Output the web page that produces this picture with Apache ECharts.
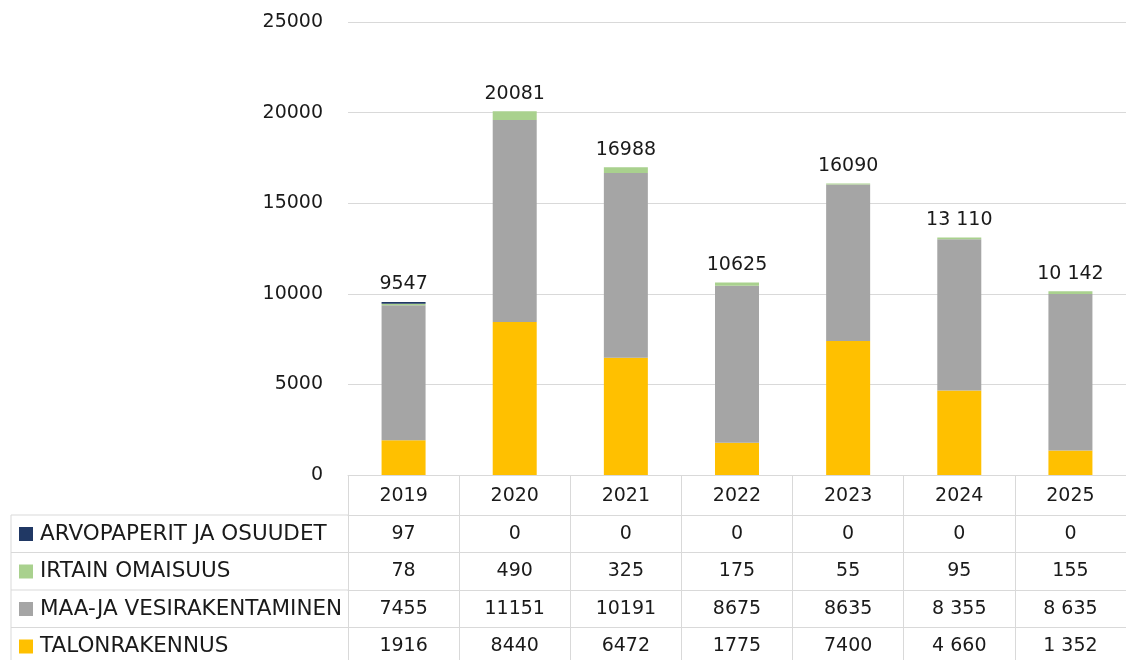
<!DOCTYPE html>
<html>
<head>
<meta charset="utf-8">
<script src="https://cdn.jsdelivr.net/npm/echarts@6/dist/echarts.min.js"></script>
<style>
html,body{margin:0;padding:0;background:#fff;}
#chart{width:1126px;height:660px;}
</style>
</head>
<body>
<div id="chart"></div>
<script>
// ---- data ----
const years = ['2019','2020','2021','2022','2023','2024','2025'];
const seriesNames = ['ARVOPAPERIT JA OSUUDET','IRTAIN OMAISUUS','MAA-JA VESIRAKENTAMINEN','TALONRAKENNUS'];
const arvopaperit = [97, 0, 0, 0, 0, 0, 0];
const irtain = [78, 490, 325, 175, 55, 95, 155];
const maaJaVesi = [7455, 11151, 10191, 8675, 8635, 8355, 8635];
const talonrakennus = [1916, 8440, 6472, 1775, 7400, 4660, 1352];
const totalLabels = ['9547','20081','16988','10625','16090','13 110','10 142'];
const spacedYears = ['2024','2025'];
const yTicks = {min: 0, max: 25000, interval: 5000};

// ---- styles ----
const colors = {
  'ARVOPAPERIT JA OSUUDET': '#203864',
  'IRTAIN OMAISUUS': '#A9D18E',
  'MAA-JA VESIRAKENTAMINEN': '#A5A5A5',
  'TALONRAKENNUS': '#FFC000'
};
const FONT = 'DejaVu Sans';
const FS = 19;
const NAME_FS = 21.5;
const TXT = '#1a1a1a';
const LINE = '#d9d9d9';
const gridLeft = 348, gridTop = 22, axisY = 475;
const headerH = 40, rowH = 37.5, labelColLeft = 11;

function fmt(v, i) {
  const s = String(v);
  if (spacedYears.indexOf(years[i]) >= 0) return s.replace(/\B(?=(\d{3})+(?!\d))/g, ' ');
  return s;
}

const tableRows = [
  {name: seriesNames[0], values: arvopaperit},
  {name: seriesNames[1], values: irtain},
  {name: seriesNames[2], values: maaJaVesi},
  {name: seriesNames[3], values: talonrakennus}
];

const xAxes = [{
  type: 'category', data: years, gridIndex: 0, position: 'bottom',
  axisLine: {show: true, lineStyle: {color: LINE, width: 1}},
  axisTick: {show: true, length: headerH, lineStyle: {color: LINE, width: 1}},
  axisLabel: {margin: 11, fontFamily: FONT, fontSize: FS, color: TXT, lineHeight: 20}
}];
tableRows.forEach((r, k) => {
  xAxes.push({
    type: 'category', data: years, gridIndex: 0, position: 'bottom',
    offset: headerH + rowH * k,
    axisLine: {show: true, lineStyle: {color: LINE, width: 1}},
    axisTick: {show: true, length: k === 3 ? 50 : rowH, lineStyle: {color: LINE, width: 1}},
    axisLabel: {margin: 9, fontFamily: FONT, fontSize: FS, color: TXT, lineHeight: 20,
      formatter: (val, i) => fmt(r.values[i], i)},
    name: '{sq| }{t|' + r.name + '}',
    nameLocation: 'start',
    nameGap: gridLeft - 19,
    nameTextStyle: {
      align: 'left', verticalAlign: 'top', padding: [8, 0, 0, 0],
      rich: {
        sq: {width: 14, height: 14, backgroundColor: colors[r.name], verticalAlign: 'middle'},
        t: {fontFamily: FONT, fontSize: NAME_FS, color: TXT, lineHeight: 22, padding: [0, 0, 0, 7], verticalAlign: 'middle'}
      }
    }
  });
});

// label-column frame lines
const graphics = [];
const colTop = axisY + headerH;
graphics.push({type: 'line', shape: {x1: labelColLeft, y1: colTop, x2: labelColLeft, y2: 700}, style: {stroke: LINE, lineWidth: 1}});
for (let k = 0; k < 4; k++) {
  const y = colTop + rowH * k;
  graphics.push({type: 'line', shape: {x1: labelColLeft, y1: y, x2: gridLeft, y2: y}, style: {stroke: LINE, lineWidth: 1}});
}

const stackOrder = [
  {name: seriesNames[3], data: talonrakennus},
  {name: seriesNames[2], data: maaJaVesi},
  {name: seriesNames[1], data: irtain},
  {name: seriesNames[0], data: arvopaperit}
];
const series = stackOrder.map(s => ({
  name: s.name, type: 'bar', stack: 'total', data: s.data, barWidth: 44,
  itemStyle: {color: colors[s.name]}, xAxisIndex: 0, yAxisIndex: 0
}));
series.push({
  name: 'total', type: 'bar', stack: 'total', data: years.map(() => 0), barWidth: 44,
  itemStyle: {color: 'transparent'},
  label: {show: true, position: 'top', distance: 8, fontFamily: FONT, fontSize: FS, color: TXT,
    formatter: p => totalLabels[p.dataIndex]}
});

const chart = echarts.init(document.getElementById('chart'));
chart.setOption({
  animation: false,
  backgroundColor: '#ffffff',
  grid: {left: gridLeft, right: -8, top: gridTop, bottom: 660 - axisY},
  xAxis: xAxes,
  yAxis: {
    type: 'value', min: yTicks.min, max: yTicks.max, interval: yTicks.interval,
    axisLine: {show: false}, axisTick: {show: false},
    splitLine: {show: true, lineStyle: {color: LINE, width: 1}},
    axisLabel: {margin: 25, fontFamily: FONT, fontSize: FS, color: TXT, formatter: v => String(v)}
  },
  graphic: graphics,
  series: series
});
</script>
</body>
</html>
